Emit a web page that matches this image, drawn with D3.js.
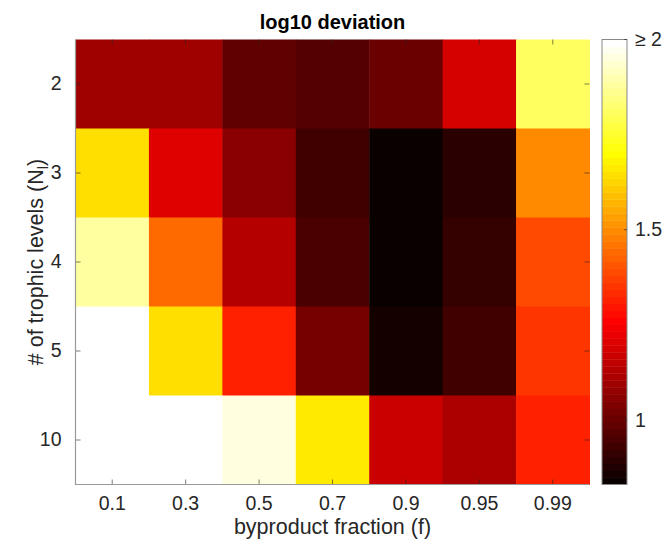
<!DOCTYPE html>
<html>
<head>
<meta charset="utf-8">
<script src="https://cdn.jsdelivr.net/npm/d3@7"></script>
<style>
  body { margin: 0; background: #fff; }
  text { font-family: "Liberation Sans", Arial, Helvetica, sans-serif; fill: #262626; }
</style>
</head>
<body>
<svg id="chart"></svg>
<script>
/* ---------- size ---------- */
var WIDTH = 664, HEIGHT = 541;

/* ---------- data ---------- */
var fractions = ["0.1", "0.3", "0.5", "0.7", "0.9", "0.95", "0.99"];
var levels = ["2", "3", "4", "5", "10"];

// log10 deviation, one row per number of trophic levels
var dev2  = [1.09, 1.09, 0.99, 0.965, 1.01, 1.19, 1.81];
var dev3  = [1.64, 1.20, 1.06, 0.93, 0.83, 0.90, 1.49];
var dev4  = [1.89, 1.44, 1.13, 0.94, 0.84, 0.91, 1.38];
var dev5  = [2.10, 1.64, 1.32, 1.02, 0.85, 0.93, 1.35];
var dev10 = [2.10, 2.10, 1.96, 1.67, 1.16, 1.105, 1.31];
var deviations = [dev2, dev3, dev4, dev5, dev10];

var cbTicks = [1, 1.5, 2];
var cbTickLabels = ["1", "1.5", "\u2265 2"];
var cLimits = [0.83, 2];

/* ---------- layout ---------- */
var pL = 75.5, pR = 589.5, pT = 39.5, pB = 484.5;
var cbLeft = 602, cbRight = 627;

var svg = d3.select("#chart")
    .attr("width", WIDTH)
    .attr("height", HEIGHT);

/* ---------- MATLAB hot colormap, 64 levels ---------- */
var M = 64;
function hot(k) { // k = 1..64
    var r = k <= 24 ? k / 24 : 1,
        g = k <= 24 ? 0 : (k <= 48 ? (k - 24) / 24 : 1),
        b = k <= 48 ? 0 : (k - 48) / 16;
    return d3.rgb(r * 255, g * 255, b * 255).toString();
}
function colorOf(v) {
    var t = (v - cLimits[0]) / (cLimits[1] - cLimits[0]);
    var k = Math.floor(t * M) + 1;
    k = Math.max(1, Math.min(M, k));
    return hot(k);
}

/* ---------- scales ---------- */
var x = d3.scaleBand().domain(fractions).range([pL, pR]).padding(0);
var y = d3.scaleBand().domain(levels).range([pT, pB]).padding(0);
var cScale = d3.scaleLinear().domain(cLimits).range([pB, pT]);

/* ---------- cells ---------- */
var cells = [];
deviations.forEach(function(row, i) {
    row.forEach(function(v, j) {
        cells.push({level: levels[i], fraction: fractions[j], value: v});
    });
});

svg.append("g").selectAll("rect")
    .data(cells)
  .enter().append("rect")
    .attr("x", function(d) { return x(d.fraction); })
    .attr("y", function(d) { return y(d.level); })
    .attr("width", x.bandwidth() + 0.5)
    .attr("height", y.bandwidth() + 0.5)
    .attr("fill", function(d) { return colorOf(d.value); });

/* ---------- axes ---------- */
var axisColor = "#262626";
var tickLen = 5;

var xAxis = svg.append("g")
    .attr("transform", "translate(0," + pB + ")")
    .call(d3.axisBottom(x).tickSize(-tickLen).tickPadding(12));
var xAxisTop = svg.append("g")
    .attr("transform", "translate(0," + pT + ")")
    .call(d3.axisTop(x).tickSize(-tickLen).tickFormat(""));
var yAxis = svg.append("g")
    .attr("transform", "translate(" + pL + ",0)")
    .call(d3.axisLeft(y).tickSize(-tickLen).tickPadding(14));
var yAxisRight = svg.append("g")
    .attr("transform", "translate(" + pR + ",0)")
    .call(d3.axisRight(y).tickSize(-tickLen).tickFormat(""));

[xAxis, xAxisTop, yAxis, yAxisRight].forEach(function(a) {
    a.selectAll(".domain").remove();
    a.selectAll(".tick line").attr("stroke", axisColor).attr("stroke-width", 0.6);
    a.selectAll(".tick text").attr("font-size", 19.5).attr("fill", axisColor);
});

// box: left and bottom lines
svg.append("path")
    .attr("d", "M" + pL + "," + pT + "V" + pB + "H" + pR)
    .attr("fill", "none")
    .attr("stroke", "#999")
    .attr("stroke-width", 1.2);

/* ---------- labels ---------- */
svg.append("text")
    .attr("x", (pL + pR) / 2)
    .attr("y", 29)
    .attr("text-anchor", "middle")
    .attr("font-size", 20)
    .attr("font-weight", "bold")
    .style("fill", "#000")
    .text("log10 deviation");

svg.append("text")
    .attr("x", (pL + pR) / 2)
    .attr("y", 534)
    .attr("text-anchor", "middle")
    .attr("font-size", 21.5)
    .text("byproduct fraction (f)");

var ylab = svg.append("text")
    .attr("transform", "translate(43," + ((pT + pB) / 2) + ") rotate(-90)")
    .attr("text-anchor", "middle")
    .attr("font-size", 21.5);
ylab.append("tspan").text("# of trophic levels (N");
ylab.append("tspan").attr("font-size", 15).attr("dy", 5).text("l");
ylab.append("tspan").attr("dy", -5).text(")");

/* ---------- colorbar ---------- */
var levelsIdx = d3.range(1, M + 1);
var step = (pB - pT) / M;
svg.append("g").selectAll("rect")
    .data(levelsIdx)
  .enter().append("rect")
    .attr("x", cbLeft)
    .attr("y", function(k) { return pB - k * step; })
    .attr("width", cbRight - cbLeft)
    .attr("height", step + 0.4)
    .attr("fill", function(k) { return hot(k); });

svg.append("rect")
    .attr("x", cbLeft)
    .attr("y", pT)
    .attr("width", cbRight - cbLeft)
    .attr("height", pB - pT)
    .attr("fill", "none")
    .attr("stroke", "#888")
    .attr("stroke-width", 1);

var cb = svg.append("g").selectAll("g")
    .data(cbTicks)
  .enter().append("g")
    .attr("transform", function(d) { return "translate(0," + cScale(d) + ")"; });
cb.append("line")
    .attr("x1", cbRight - 3).attr("x2", cbRight)
    .attr("stroke", axisColor).attr("stroke-width", 0.6);
cb.append("text")
    .attr("x", cbRight + 8)
    .attr("dy", "0.35em")
    .attr("font-size", 19.5)
    .text(function(d, i) { return cbTickLabels[i]; });
</script>
</body>
</html>
